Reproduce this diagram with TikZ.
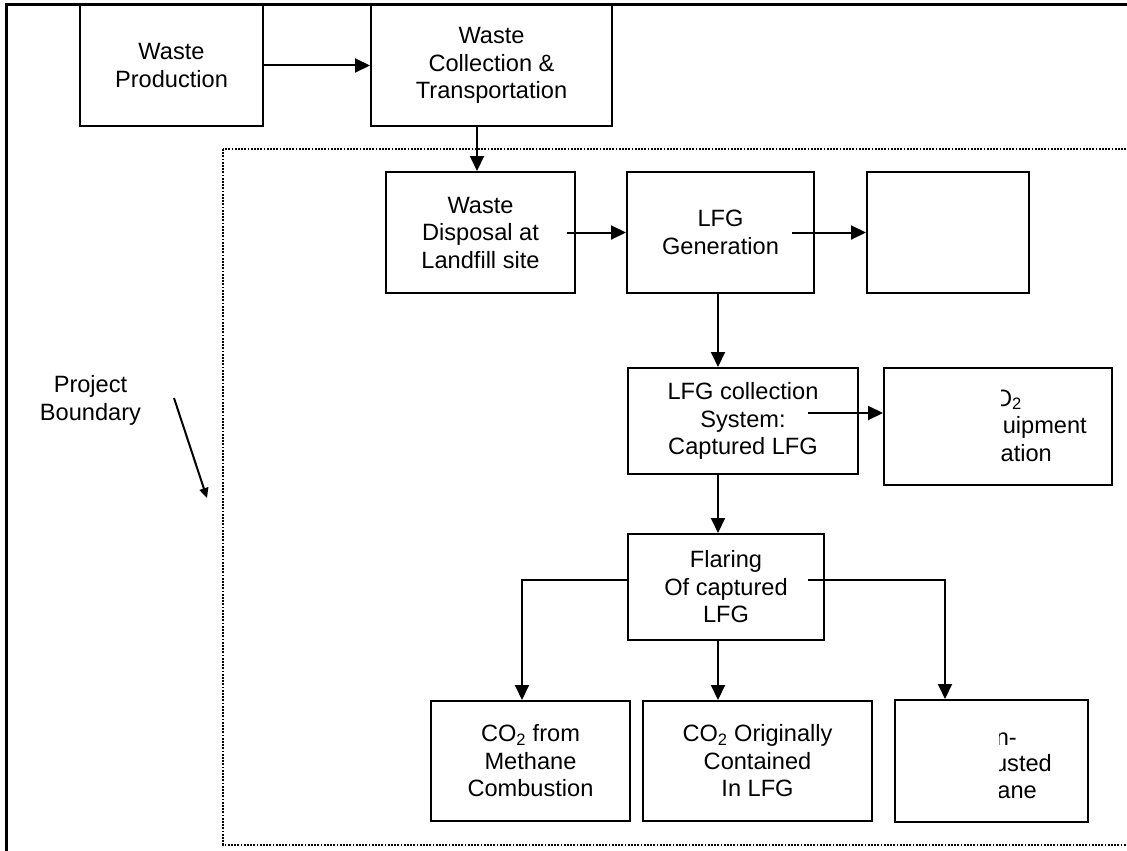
\documentclass[tikz,border=0pt]{standalone}
\usepackage{fontspec}
\setmainfont{Liberation Sans}
\usetikzlibrary{arrows.meta}
\begin{document}
\begin{tikzpicture}[x=1pt,y=-1pt,
  txt/.style={inner sep=0pt,align=center,font=\fontsize{23.6}{27.5}\selectfont},
  box/.style={txt,draw,line width=2pt},
  conn/.style={line width=2pt,-{Triangle[length=15pt,width=14pt]}},
  frame/.style={line width=3pt},
  boundary/.style={line width=1.8pt,dash pattern=on 1.8pt off 1.4pt}]
\useasboundingbox (0,0) rectangle (1127,851);
\clip (0,0) rectangle (1127,851);
\fill[white] (0,0) rectangle (1127,851);
% outer frame and project boundary
\draw[frame] (6.5,4.5) rectangle (1145,870);
\draw[boundary] (223,149) rectangle (1145,845);
% boxes
\node[box,minimum width=183pt,minimum height=121pt] (wp) at (171.5,65.5) {Waste\\Production};
\node[box,minimum width=241pt,minimum height=121pt] (wct) at (491.5,65.5) {Waste\\Collection \&\\Transportation};
\node[box,minimum width=189pt,minimum height=121pt] (wd) at (480.5,232.5) {Waste\\Disposal at\\Landfill site};
\node[box,minimum width=187pt,minimum height=121pt] (lfg) at (720.5,232.5) {LFG\\Generation};
\node[box,minimum width=162pt,minimum height=121pt] (emp) at (948,232.5) {};
\node[box,minimum width=230pt,minimum height=106pt] (col) at (743,421) {LFG collection\\System:\\Captured LFG};
\node[box,minimum width=228pt,minimum height=117pt] (ceq) at (998,426.5) {};
\node[box,minimum width=196pt,minimum height=106pt] (fl) at (726,587) {Flaring\\Of captured\\LFG};
\node[box,minimum width=199pt,minimum height=120pt] (cm) at (530.5,761) {CO\textsubscript{2} from\\Methane\\Combustion};
\node[box,minimum width=229pt,minimum height=120pt] (co) at (757.5,761) {CO\textsubscript{2} Originally\\Contained\\In LFG};
\node[box,minimum width=193pt,minimum height=122pt] (nc) at (991.5,761) {};
% partly hidden texts
\begin{scope}
\clip (1001,369) rectangle (1111,484);
\node[txt,anchor=base east] (ceqa) at (1022,406) {O\textsubscript{2}};
\node[txt,anchor=base east] (ceqb) at (1087,433.5) {uipment};
\node[txt,anchor=base east] (ceqc) at (1052,461) {ation};
\end{scope}
\begin{scope}
\clip (999,702) rectangle (1087,821);
\node[txt,anchor=base east] (nca) at (1017,745) {n-};
\node[txt,anchor=base east] (ncb) at (1052,771.7) {usted};
\node[txt,anchor=base east] (ncc) at (1037,798) {ane};
\end{scope}
% project boundary label
\node[txt] (pb) at (90.5,400.3) {Project\\Boundary};
\coordinate (pbs) at (174,398);
\coordinate (pbe) at (207,498);
\draw[line width=2pt,-{Triangle[length=10pt,width=9pt]}] (pbs) -- (pbe);
% helper coordinates
\coordinate (wctx) at (477,0);
\coordinate (vx) at (718,0);
\coordinate (lx) at (522,0);
\coordinate (rx) at (945,0);
\coordinate (wdout) at (567,232.5);
\coordinate (lfgout) at (792,232.5);
\coordinate (colout) at (808,413);
\coordinate (flout) at (808,579.5);
\coordinate (fly) at (0,579.5);
% connectors
\draw[conn] (wp) -- (wct);
\draw[conn] (wct.south -| wctx) -- (wd.north -| wctx);
\draw[conn] (wdout) -- (wdout -| lfg.west);
\draw[conn] (lfgout) -- (lfgout -| emp.west);
\draw[conn] (lfg.south -| vx) -- (col.north -| vx);
\draw[conn] (colout) -- (colout -| ceq.west);
\draw[conn] (col.south -| vx) -- (fl.north -| vx);
\draw[conn] (fl.west |- fly) -| (cm.north -| lx);
\draw[conn] (fl.south -| vx) -- (co.north -| vx);
\draw[conn] (flout) -| (nc.north -| rx);
\end{tikzpicture}
\end{document}
